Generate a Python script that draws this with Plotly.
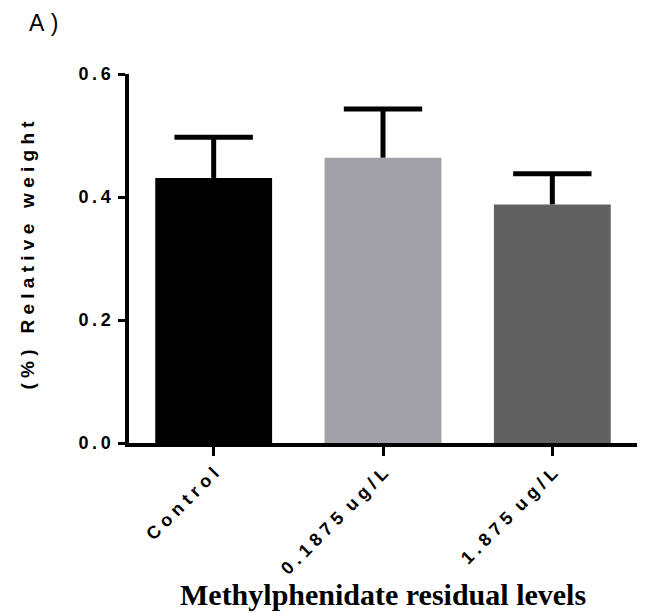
import plotly.graph_objects as go

categories = ["Control", "0.1875 ug/L", "1.875 ug/L"]
means = [0.431, 0.464, 0.388]
sds = [0.066, 0.079, 0.050]
colors = ["#000000", "#a1a0a4", "#616161"]
y_ticks = [0.0, 0.2, 0.4, 0.6]

NB = "\u00a0"
THIN = "\u2009"

def spaced(s, sep=NB, word=NB * 3):
    words = s.split(" ")
    return word.join(sep.join(list(w)) for w in words)

fig = go.Figure()
fig.add_trace(go.Bar(
    x=categories, y=means,
    marker=dict(color=colors, line=dict(width=0)),
    width=0.69, hoverinfo="skip",
))
# error bar stems (upper only)
fig.add_trace(go.Scatter(
    x=categories, y=means, mode="markers",
    marker=dict(size=1, color="rgba(0,0,0,0)"),
    error_y=dict(type="data", symmetric=False, array=sds,
                 arrayminus=[0, 0, 0], color="#000000", thickness=5, width=0),
))
# caps
fig.add_trace(go.Scatter(
    x=categories, y=[m + s for m, s in zip(means, sds)], mode="markers",
    marker=dict(symbol="line-ew", size=56, color="#000000",
                line=dict(width=5, color="#000000")),
))

# page has 8px body margin: layout is 644x605 shifted by 8px
fig.update_layout(
    width=644, height=605,
    margin=dict(l=121, r=15, t=66, b=170),
    plot_bgcolor="white", paper_bgcolor="white",
    showlegend=False,
    font=dict(family="Liberation Sans, Arial", color="#000000"),
)
fig.update_xaxes(
    range=[-0.5, 2.5], automargin=False,
    tickmode="array", tickvals=categories,
    ticktext=[spaced(c, word=NB * 2) for c in categories],
    tickangle=-45,
    tickfont=dict(size=18, family="Liberation Sans, Arial", weight="bold"),
    showline=True, linecolor="#000000", linewidth=3.5,
    ticks="outside", ticklen=9, tickwidth=3, tickcolor="#000000",
    showgrid=False, zeroline=False,
)
fig.update_yaxes(
    range=[0, 0.6], automargin=False,
    tickmode="array", tickvals=y_ticks,
    ticktext=[THIN.join(list(f"{v:.1f}")) for v in y_ticks],
    tickfont=dict(size=18, family="Liberation Sans, Arial", weight="bold"),
    ticklabelstandoff=4,
    showline=True, linecolor="#000000", linewidth=3.5,
    ticks="outside", ticklen=7, tickwidth=3, tickcolor="#000000",
    showgrid=False, zeroline=False,
)
fig.add_annotation(
    text=spaced("(%) Relative weight"), xref="paper", yref="paper",
    x=-0.1998, y=0.5095, xanchor="center", yanchor="middle", showarrow=False,
    textangle=-90,
    font=dict(size=19, family="Liberation Sans, Arial", weight="bold"),
)
fig.add_annotation(
    text="Methylphenidate residual levels", xref="paper", yref="paper",
    x=0.5, y=-0.4607, xanchor="center", yanchor="bottom", showarrow=False,
    font=dict(size=30, family="Liberation Serif, Times New Roman", weight="bold"),
)
fig.add_annotation(
    text="A" + NB + ")", xref="paper", yref="paper",
    x=-0.2008, y=1.1369, xanchor="left", yanchor="middle", showarrow=False,
    font=dict(size=23, family="Liberation Sans, Arial"),
)
fig.write_html("out.html")
